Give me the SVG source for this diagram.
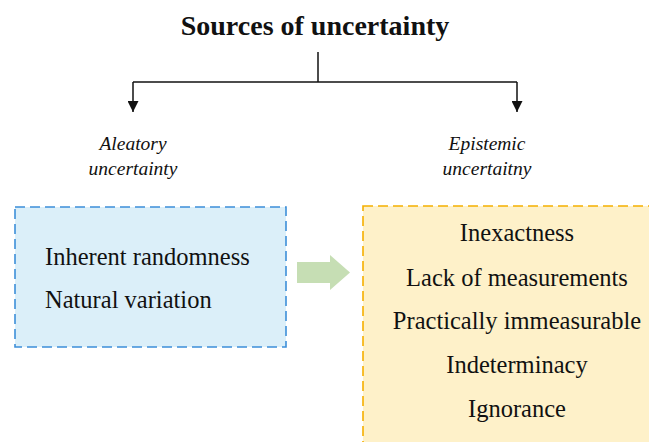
<svg xmlns="http://www.w3.org/2000/svg" width="649" height="442" viewBox="0 0 649 442">
<style>
text{font-family:'Liberation Serif',Tinos,'Times New Roman',Times,serif;fill:#111;}
.title{font-size:28px;font-weight:bold;}
.sub{font-size:19.5px;font-style:italic;text-anchor:middle;}
.item{font-size:24.5px;}
.c{text-anchor:middle;}
.conn{stroke:#111;stroke-width:1.5;fill:none;}
</style>
<defs>
<marker id="ah" viewBox="0 0 10 10" refX="10" refY="5" markerWidth="11" markerHeight="11" markerUnits="userSpaceOnUse" orient="auto">
<path d="M0,0 L10,5 L0,10 Z" fill="#111"/>
</marker>
</defs>
<rect width="649" height="442" fill="#fff"/>
<g id="title"><text class="title" x="315" y="35" text-anchor="middle">Sources of uncertainty</text></g>
<g id="connectors">
<path class="conn" d="M318,52 V82"/>
<path class="conn" d="M133,82 H517"/>
<path class="conn" d="M133,82 V112" marker-end="url(#ah)"/>
<path class="conn" d="M517,82 V112" marker-end="url(#ah)"/>
<path d="M297,262 H330 V255 L350,272.5 L330,290 V283 H297 Z" fill="#C6DEB4"/>
</g>
<g id="aleatory-label"><text class="sub" x="133" y="150">Aleatory</text><text class="sub" x="133" y="175">uncertainty</text></g>
<g id="epistemic-label"><text class="sub" x="487" y="150">Epistemic</text><text class="sub" x="487" y="175">uncertaitny</text></g>
<g id="aleatory-box">
<rect x="15" y="207" width="271" height="140" fill="#DBEFF9" stroke="#3D8FD9" stroke-width="1.6" stroke-dasharray="10,5"/>
<text class="item" x="45" y="265">Inherent randomness</text>
<text class="item" x="45" y="308">Natural variation</text>
</g>
<g id="epistemic-box">
<rect x="363" y="206" width="300" height="250" fill="#FEF1C9" stroke="#F5B000" stroke-width="1.6" stroke-dasharray="10,5"/>
<text class="item c" x="517" y="241">Inexactness</text>
<text class="item c" x="517" y="286">Lack of measurements</text>
<text class="item c" x="517" y="329">Practically  immeasurable</text>
<text class="item c" x="517" y="373">Indeterminacy</text>
<text class="item c" x="517" y="417">Ignorance</text>
</g>
</svg>
